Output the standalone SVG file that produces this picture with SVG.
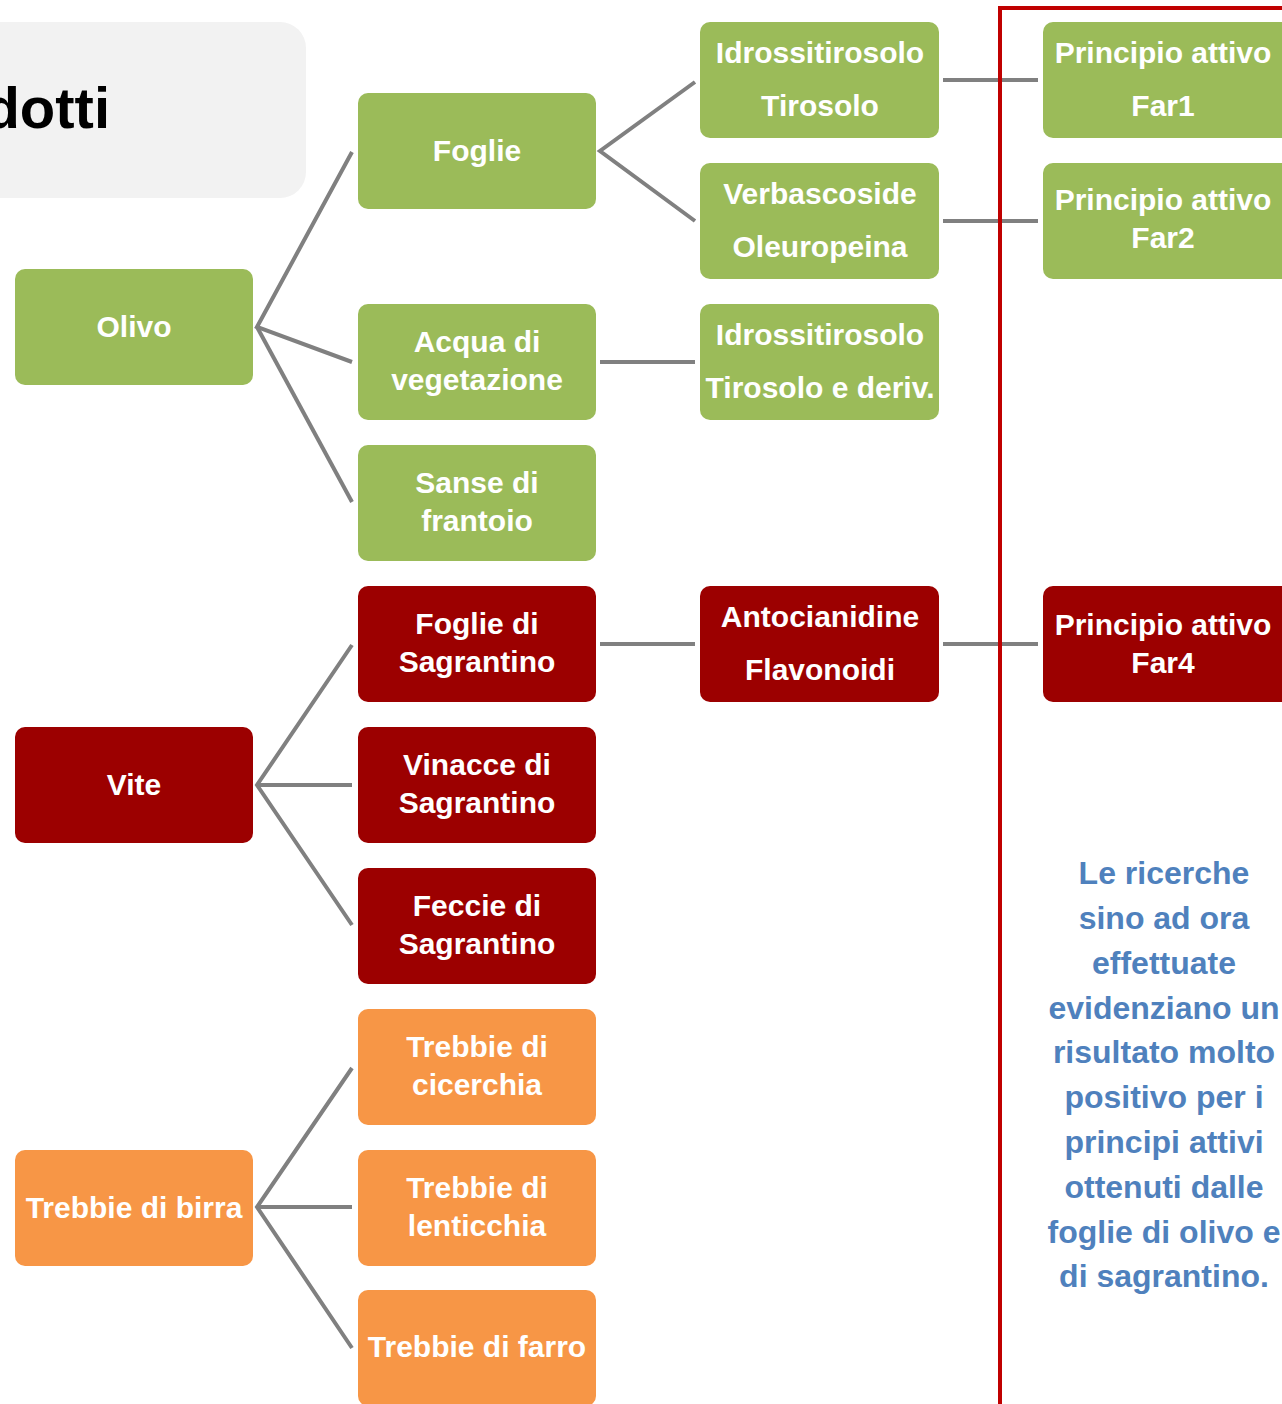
<svg xmlns="http://www.w3.org/2000/svg" width="1282" height="1404" viewBox="0 0 1282 1404">
<style>
.g{fill:#9bbb59}
.r{fill:#9c0000}
.o{fill:#f79646}
.t{font-family:"Liberation Sans",Arial,sans-serif;font-weight:bold;font-size:30px;fill:#fff;text-anchor:middle}
.c{stroke:#808080;stroke-width:4;fill:none}
.b{font-family:"Liberation Sans",Arial,sans-serif;font-weight:bold;font-size:32px;fill:#4f81bd;text-anchor:middle}
</style>
<rect x="-40" y="22" width="346" height="176" rx="26" fill="#f2f2f2"/>
<text x="110" y="128" font-family="Liberation Sans,Arial,sans-serif" font-weight="bold" font-size="58" fill="#000" text-anchor="end">dotti</text>
<g id="connectors" class="c">
<polyline points="352,152 257,327 352,362"/>
<line x1="257" y1="327" x2="352" y2="502"/>
<polyline points="695,82 600,151 695,221"/>
<line x1="600" y1="362" x2="695" y2="362"/>
<line x1="943" y1="80" x2="1038" y2="80"/>
<line x1="943" y1="221" x2="1038" y2="221"/>
<line x1="943" y1="644" x2="1038" y2="644"/>
<line x1="600" y1="644" x2="695" y2="644"/>
<polyline points="352,645 257,785 352,925"/>
<line x1="257" y1="785" x2="352" y2="785"/>
<polyline points="352,1068 257,1207 352,1348"/>
<line x1="257" y1="1207" x2="352" y2="1207"/>
</g>
<g id="frame" stroke="#c00000" stroke-width="4" fill="none">
<polyline points="1000,1404 1000,8 1282,8"/>
</g>
<g id="olivo"><rect class="g" x="15" y="269" width="238" height="116" rx="10"/><text class="t" x="134" y="337">Olivo</text></g>
<g id="vite"><rect class="r" x="15" y="727" width="238" height="116" rx="10"/><text class="t" x="134" y="795">Vite</text></g>
<g id="birra"><rect class="o" x="15" y="1150" width="238" height="116" rx="10"/><text class="t" x="134" y="1218">Trebbie di birra</text></g>
<g id="foglie"><rect class="g" x="358" y="93" width="238" height="116" rx="10"/><text class="t" x="477" y="161">Foglie</text></g>
<g id="acqua"><rect class="g" x="358" y="304" width="238" height="116" rx="10"/><text class="t" x="477" y="352">Acqua di</text><text class="t" x="477" y="390">vegetazione</text></g>
<g id="sanse"><rect class="g" x="358" y="445" width="238" height="116" rx="10"/><text class="t" x="477" y="493">Sanse di</text><text class="t" x="477" y="531">frantoio</text></g>
<g id="fogliesag"><rect class="r" x="358" y="586" width="238" height="116" rx="10"/><text class="t" x="477" y="634">Foglie di</text><text class="t" x="477" y="672">Sagrantino</text></g>
<g id="vinacce"><rect class="r" x="358" y="727" width="238" height="116" rx="10"/><text class="t" x="477" y="775">Vinacce di</text><text class="t" x="477" y="813">Sagrantino</text></g>
<g id="feccie"><rect class="r" x="358" y="868" width="238" height="116" rx="10"/><text class="t" x="477" y="916">Feccie di</text><text class="t" x="477" y="954">Sagrantino</text></g>
<g id="cicerchia"><rect class="o" x="358" y="1009" width="238" height="116" rx="10"/><text class="t" x="477" y="1057">Trebbie di</text><text class="t" x="477" y="1095">cicerchia</text></g>
<g id="lenticchia"><rect class="o" x="358" y="1150" width="238" height="116" rx="10"/><text class="t" x="477" y="1198">Trebbie di</text><text class="t" x="477" y="1236">lenticchia</text></g>
<g id="farro"><rect class="o" x="358" y="1290" width="238" height="116" rx="10"/><text class="t" x="477" y="1357">Trebbie di farro</text></g>
<g id="idross1"><rect class="g" x="700" y="22" width="239" height="116" rx="10"/><text class="t" x="820" y="63">Idrossitirosolo</text><text class="t" x="820" y="116">Tirosolo</text></g>
<g id="verba"><rect class="g" x="700" y="163" width="239" height="116" rx="10"/><text class="t" x="820" y="204">Verbascoside</text><text class="t" x="820" y="257">Oleuropeina</text></g>
<g id="idross2"><rect class="g" x="700" y="304" width="239" height="116" rx="10"/><text class="t" x="820" y="345">Idrossitirosolo</text><text class="t" x="820" y="398">Tirosolo e deriv.</text></g>
<g id="antoc"><rect class="r" x="700" y="586" width="239" height="116" rx="10"/><text class="t" x="820" y="627">Antocianidine</text><text class="t" x="820" y="680">Flavonoidi</text></g>
<g id="far1"><rect class="g" x="1043" y="22" width="250" height="116" rx="10"/><text class="t" x="1163" y="63">Principio attivo</text><text class="t" x="1163" y="116">Far1</text></g>
<g id="far2"><rect class="g" x="1043" y="163" width="250" height="116" rx="10"/><text class="t" x="1163" y="210">Principio attivo</text><text class="t" x="1163" y="248">Far2</text></g>
<g id="far4"><rect class="r" x="1043" y="586" width="250" height="116" rx="10"/><text class="t" x="1163" y="635">Principio attivo</text><text class="t" x="1163" y="673">Far4</text></g>
<g id="note">
<text class="b" x="1164" y="884">Le ricerche</text>
<text class="b" x="1164" y="929">sino ad ora</text>
<text class="b" x="1164" y="974">effettuate</text>
<text class="b" x="1164" y="1019">evidenziano un</text>
<text class="b" x="1164" y="1063">risultato molto</text>
<text class="b" x="1164" y="1108">positivo per i</text>
<text class="b" x="1164" y="1153">principi attivi</text>
<text class="b" x="1164" y="1198">ottenuti dalle</text>
<text class="b" x="1164" y="1243">foglie di olivo e</text>
<text class="b" x="1164" y="1287">di sagrantino.</text>
</g>
</svg>
